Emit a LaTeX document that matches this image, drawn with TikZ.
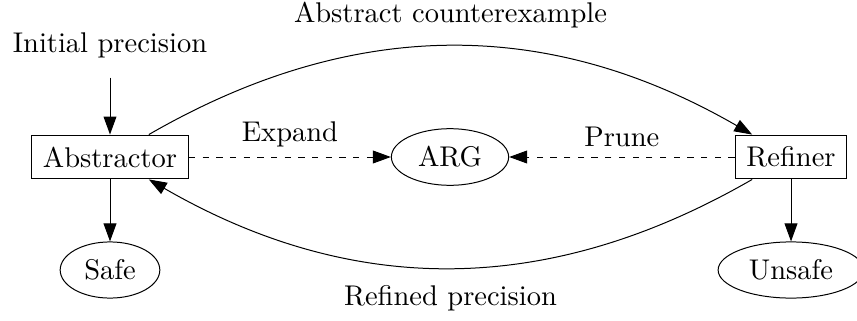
\documentclass[tikz,border=0pt]{standalone}
\usetikzlibrary{shapes.geometric,arrows.meta}
\begin{document}
\begin{tikzpicture}[x=0.3509pt,y=-0.3509pt,line width=0.35pt,
  box/.style={draw,rectangle,minimum height=15.4pt,inner xsep=4pt},
  oval/.style={draw,ellipse},
  arr/.style={-{Triangle[length=6.3pt,width=4.5pt]}},
  dsh/.style={arr,dash pattern=on 2.2pt off 2.6pt},
  plain/.style={inner sep=3.33pt}]
\useasboundingbox (0,0) rectangle (857,320);
\node[box] (abs) at (110,157) {Abstractor};
\node[box] (ref) at (791,157) {Refiner};
\node[oval] (arg) at (450,157) {ARG};
\node[oval] (safe) at (110,270) {Safe};
\node[oval] (unsafe) at (791,270) {Unsafe};
\node[plain] (init) at (110,45) {Initial precision};
\draw[arr,shorten <=3.5pt] (init) -- (abs);
\draw[arr] (abs) -- (safe);
\draw[arr] (ref) -- (unsafe);
\draw[dsh] (abs) -- node[midway,above] (lexp) {Expand} (arg);
\draw[dsh] (ref) -- node[midway,above] (lpr) {Prune} (arg);
\draw[arr] (abs) to[bend left=30] node[midway,above=2.8pt] (lace) {Abstract counterexample} (ref);
\draw[arr] (ref) to[bend left=30] node[midway,below=2.8pt] (lrp) {Refined precision} (abs);
\end{tikzpicture}
\end{document}
